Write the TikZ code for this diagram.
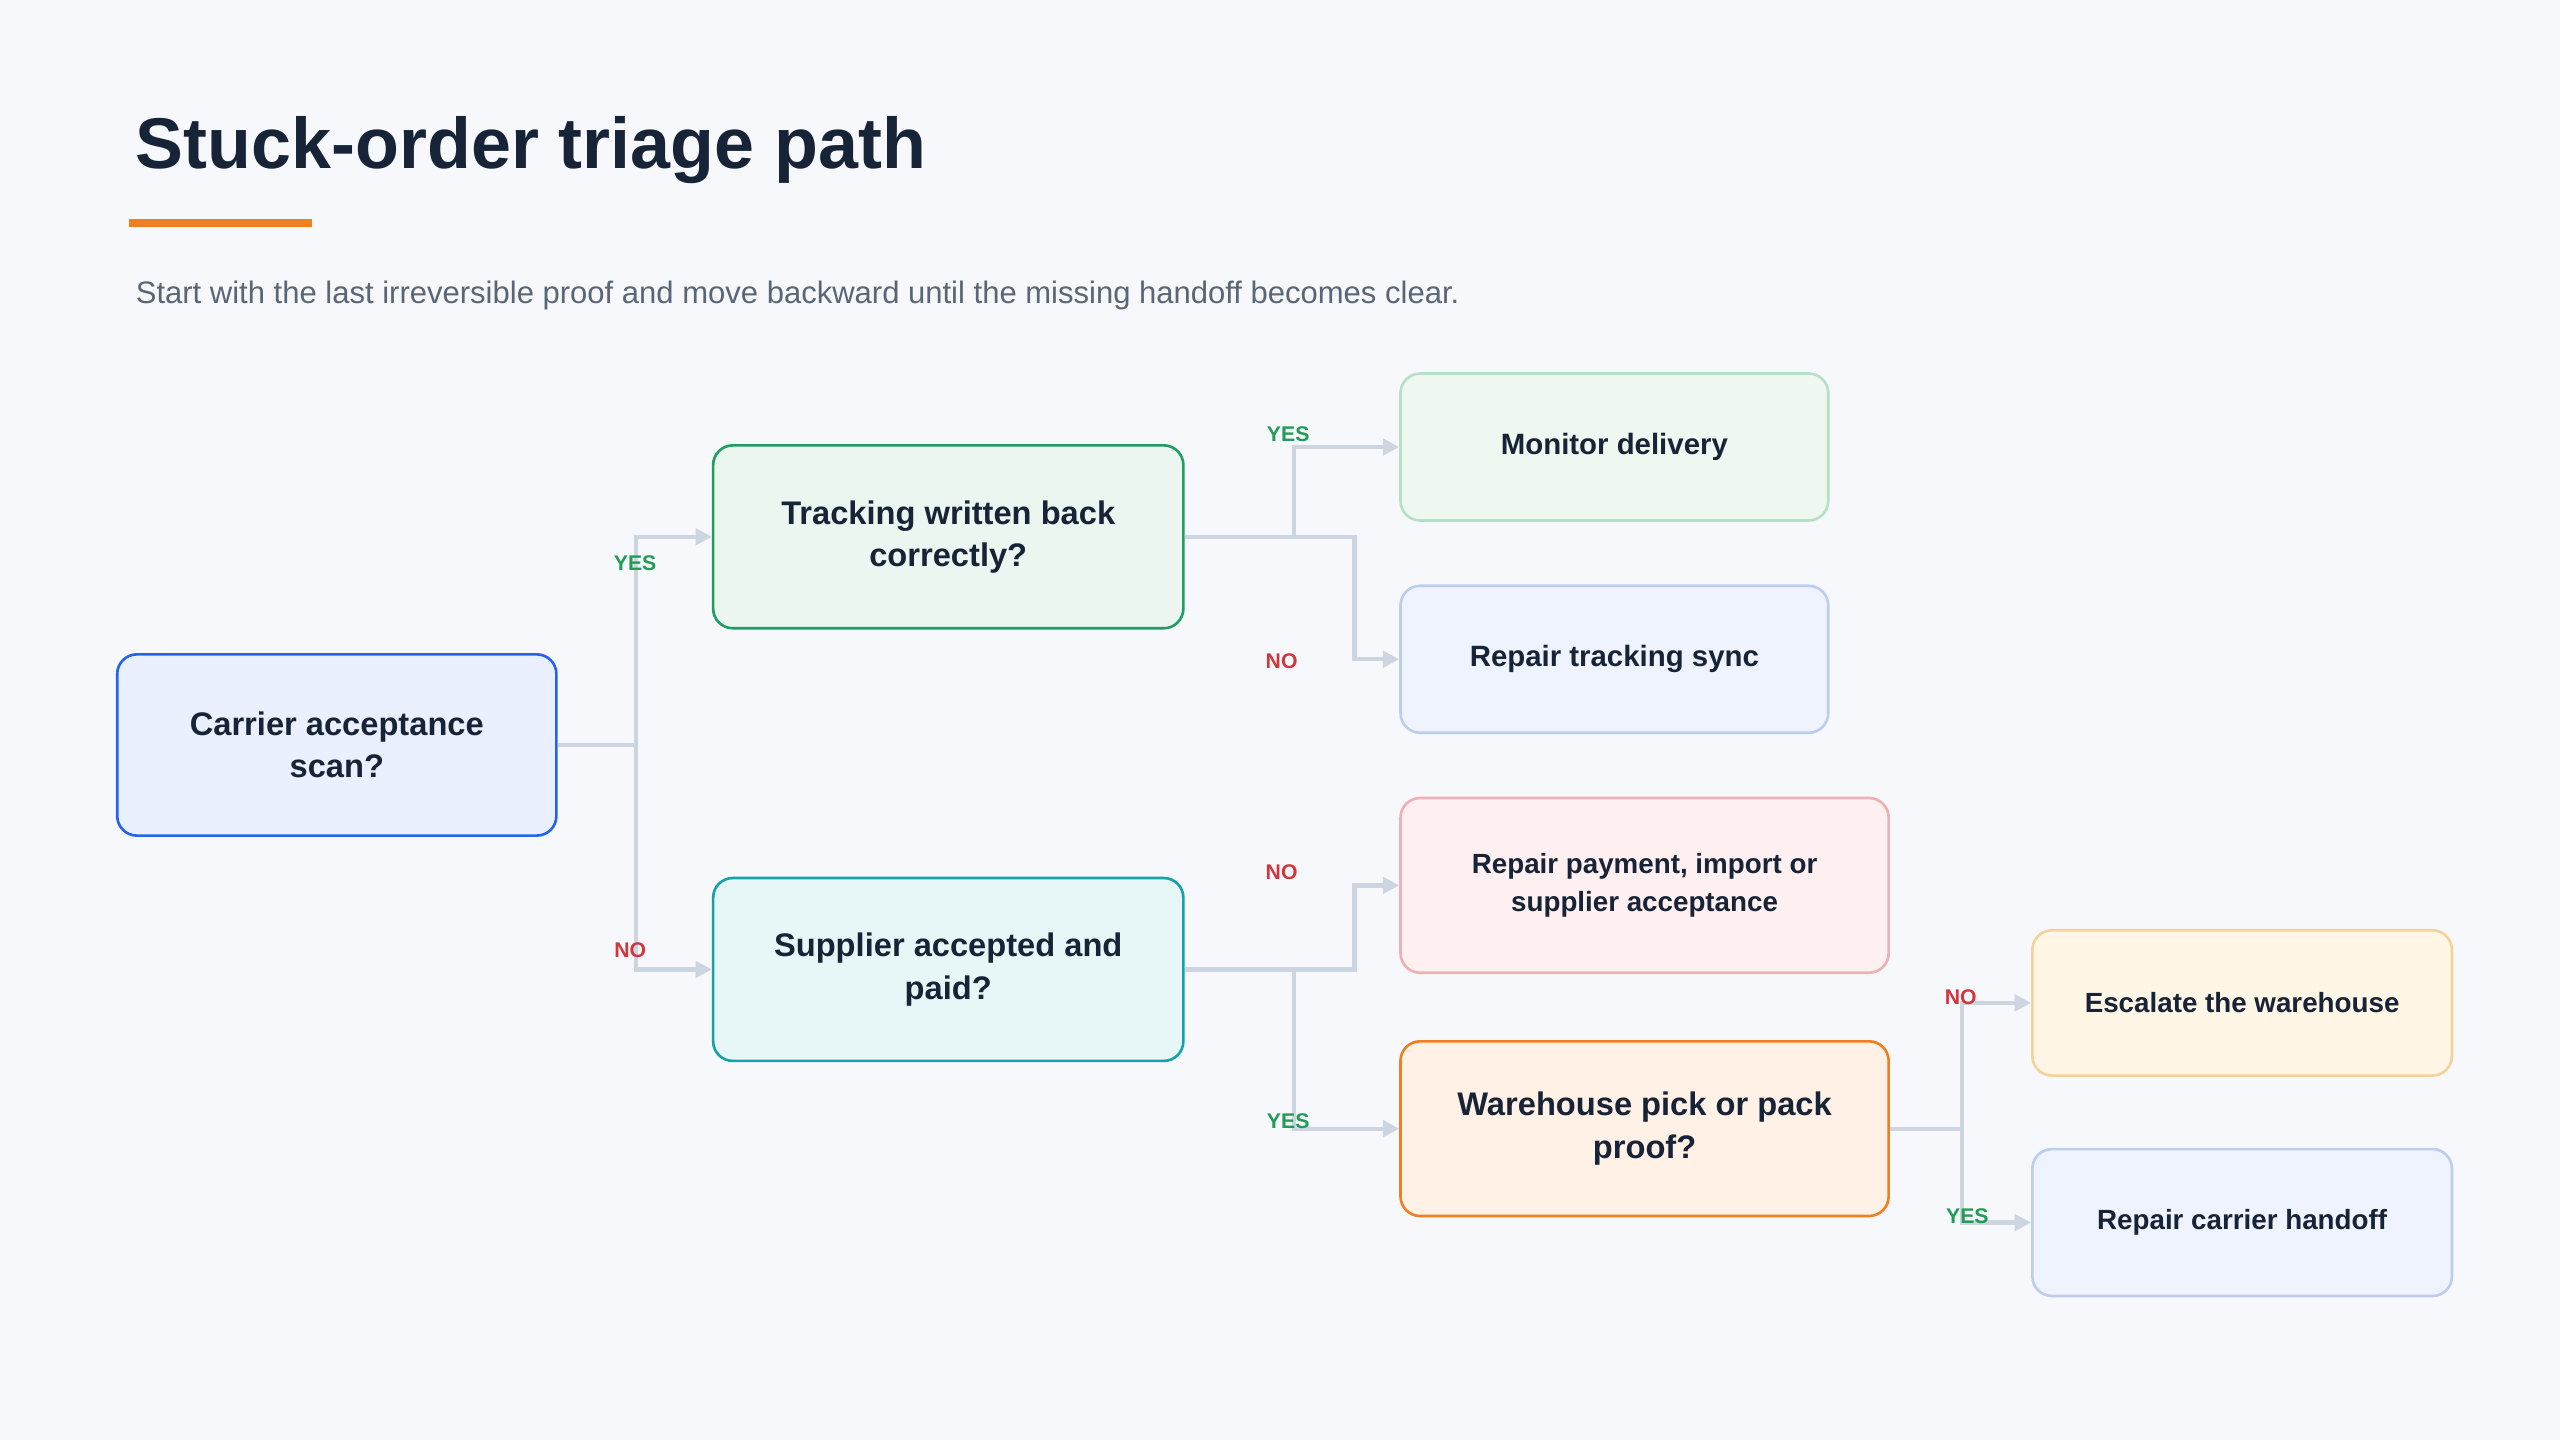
\documentclass[tikz,border=0pt]{standalone}
\usepackage{fontspec}
\setmainfont{Liberation Sans}
\usetikzlibrary{arrows.meta}
\definecolor{bg}{HTML}{F6F8FB}
\definecolor{ink}{HTML}{172337}
\definecolor{sub}{HTML}{5A6575}
\definecolor{wire}{HTML}{CDD5E1}
\definecolor{yesc}{HTML}{1F9D55}
\definecolor{noc}{HTML}{D0363B}
\definecolor{bA}{HTML}{2563EB}\definecolor{fA}{HTML}{EAF0FE}
\definecolor{bB}{HTML}{1F9D63}\definecolor{fB}{HTML}{EAF6EF}
\definecolor{bC}{HTML}{14A3A8}\definecolor{fC}{HTML}{E7F7F7}
\definecolor{bD}{HTML}{B5E0C3}\definecolor{fD}{HTML}{EEF8F0}
\definecolor{bE}{HTML}{BCCDF0}\definecolor{fE}{HTML}{EEF3FE}
\definecolor{bF}{HTML}{EEB0B4}\definecolor{fF}{HTML}{FEF0F0}
\definecolor{bG}{HTML}{F07E22}\definecolor{fG}{HTML}{FFF1E6}
\definecolor{bH}{HTML}{F2D39A}\definecolor{fH}{HTML}{FFF6E6}
\definecolor{bar}{HTML}{F07E22}
\begin{document}
\begin{tikzpicture}[x=1pt,y=-1pt,
 box/.style={rounded corners=12pt,line width=1.6pt,align=center,font=\bfseries\fontsize{20}{26}\selectfont,text=ink,inner sep=0pt,anchor=north west},
 wirel/.style={draw=wire,line width=2.6pt,-{Triangle[length=10pt,width=10pt]}},
 lab/.style={font=\bfseries\fontsize{13}{15}\selectfont},
 yes/.style={lab,text=yesc},no/.style={lab,text=noc}]
\useasboundingbox[fill=bg] (0,0) rectangle (1568,882);
\node[anchor=base west,inner sep=0,text=ink,font=\bfseries\fontsize{44}{50}\selectfont] (title) at (83,103) {Stuck-order triage path};
\fill[bar] (79,134) rectangle (191,139);
\node[anchor=base west,inner sep=0,text=sub,font=\fontsize{19}{23}\selectfont] (subt) at (83,186) {Start with the last irreversible proof and move backward until the missing handoff becomes clear.};
\node[box,draw=bA,fill=fA,minimum width=269pt,minimum height=111pt] (carrier) at (71,400) {Carrier acceptance\\scan?};
\node[box,draw=bB,fill=fB,minimum width=288pt,minimum height=112pt] (track) at (436,272) {Tracking written back\\correctly?};
\node[box,draw=bC,fill=fC,minimum width=288pt,minimum height=112pt] (supp) at (436,537) {Supplier accepted and\\paid?};
\node[box,draw=bD,fill=fD,minimum width=262pt,minimum height=90pt,font=\bfseries\fontsize{18}{22}\selectfont] (mon) at (857,228) {Monitor delivery};
\node[box,draw=bE,fill=fE,minimum width=262pt,minimum height=90pt,font=\bfseries\fontsize{18}{22}\selectfont] (rts) at (857,358) {Repair tracking sync};
\node[box,draw=bF,fill=fF,minimum width=299pt,minimum height=107pt,font=\bfseries\fontsize{17}{23}\selectfont] (rpay) at (857,488) {Repair payment, import or\\supplier acceptance};
\node[box,draw=bG,fill=fG,minimum width=299pt,minimum height=107pt] (wh) at (857,637) {Warehouse pick or pack\\proof?};
\node[box,draw=bH,fill=fH,minimum width=257pt,minimum height=89pt,font=\bfseries\fontsize{17}{22}\selectfont] (esc) at (1244,569) {Escalate the warehouse};
\node[box,draw=bE,fill=fE,minimum width=257pt,minimum height=90pt,font=\bfseries\fontsize{17}{22}\selectfont] (rch) at (1244,703) {Repair carrier handoff};
\draw[wirel] (carrier.east) -- ++(48,0) |- (track.west);
\draw[wirel] (carrier.east) -- ++(48,0) |- (supp.west);
\draw[wirel] (track.east) -- ++(67,0) |- (mon.west);
\draw[wirel] (track.east) -- ++(104,0) |- (rts.west);
\draw[wirel] (supp.east) -- ++(104,0) |- (rpay.west);
\draw[wirel] (supp.east) -- ++(67,0) |- (wh.west);
\draw[wirel] (wh.east) -- ++(44,0) |- (esc.west);
\draw[wirel] (wh.east) -- ++(44,0) |- (rch.west);
\node[yes] (l1) at (389,345) {YES};
\node[no] (l2) at (386,582) {NO};
\node[yes] (l3) at (789,266) {YES};
\node[no] (l4) at (785,405) {NO};
\node[no] (l5) at (785,534) {NO};
\node[yes] (l6) at (789,687) {YES};
\node[no] (l7) at (1201,611) {NO};
\node[yes] (l8) at (1205,745) {YES};
\end{tikzpicture}
\end{document}
